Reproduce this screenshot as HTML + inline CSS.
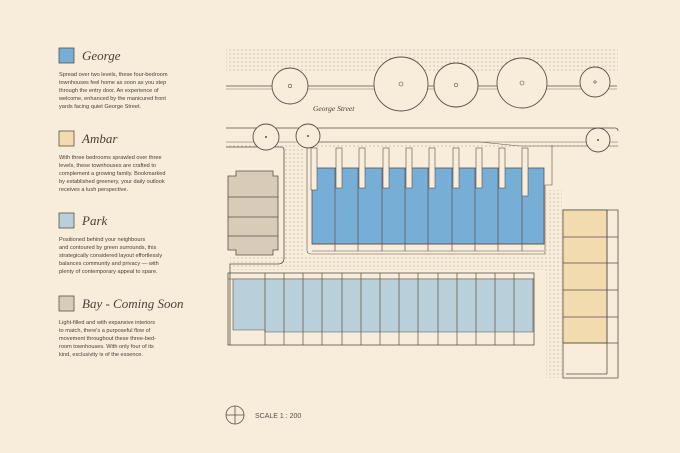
<!DOCTYPE html>
<html><head><meta charset="utf-8"><style>
html,body{margin:0;padding:0;background:#f8ecda;}
svg{display:block}
.t{font-family:"Liberation Serif",serif;font-style:italic;fill:#4a3f36}
.b{font-family:"Liberation Sans",sans-serif;font-size:5.6px;fill:#4a3f36}
</style></head><body>
<svg width="680" height="453" viewBox="0 0 680 453" xmlns="http://www.w3.org/2000/svg">
<defs>
<pattern id="dots" width="4" height="4" patternUnits="userSpaceOnUse"><circle cx="2" cy="2" r="0.55" fill="#9a8c7c"/></pattern>
</defs>
<rect width="680" height="453" fill="#f8ecda"/>
<!-- legend -->
<rect x="59" y="48" width="15" height="15" fill="#77aed6" stroke="#5a5048" stroke-width="0.8"/>
<text x="82" y="60" class="t" font-size="13">George</text>
<g class="b"><text x="59" y="76">Spread over two levels, these four-bedroom</text><text x="59" y="84">townhouses feel home as soon as you step</text><text x="59" y="92">through the entry door. An experience of</text><text x="59" y="100">welcome, enhanced by the manicured front</text><text x="59" y="108">yards facing quiet George Street.</text></g>
<rect x="59" y="131" width="15" height="15" fill="#f3dbb0" stroke="#5a5048" stroke-width="0.8"/>
<text x="82" y="143" class="t" font-size="13">Ambar</text>
<g class="b"><text x="59" y="159">With three bedrooms sprawled over three</text><text x="59" y="167">levels, these townhouses are crafted to</text><text x="59" y="175">complement a growing family. Bookmarked</text><text x="59" y="183">by established greenery, your daily outlook</text><text x="59" y="191">receives a lush perspective.</text></g>
<rect x="59" y="213" width="15" height="15" fill="#b9d0db" stroke="#5a5048" stroke-width="0.8"/>
<text x="82" y="225" class="t" font-size="13">Park</text>
<g class="b"><text x="59" y="241">Positioned behind your neighbours</text><text x="59" y="249">and contoured by green surrounds, this</text><text x="59" y="257">strategically considered layout effortlessly</text><text x="59" y="265">balances community and privacy — with</text><text x="59" y="273">plenty of contemporary appeal to spare.</text></g>
<rect x="59" y="296" width="15" height="15" fill="#d8cbb8" stroke="#5a5048" stroke-width="0.8"/>
<text x="82" y="308" class="t" font-size="13">Bay - Coming Soon</text>
<g class="b"><text x="59" y="324">Light-filled and with expansive interiors</text><text x="59" y="332">to match, there's a purposeful flow of</text><text x="59" y="340">movement throughout these three-bed-</text><text x="59" y="348">room townhouses. With only four of its</text><text x="59" y="356">kind, exclusivity is of the essence.</text></g>

<!-- site -->
<g stroke="#5a5048" stroke-width="0.8" fill="none">
<rect x="226" y="49" width="392" height="24" fill="url(#dots)" stroke="none"/>
<line x1="226" y1="86" x2="617" y2="86"/>
<line x1="226" y1="89" x2="617" y2="89" stroke-width="0.4"/>
<path d="M226 128 L615 128 Q618 128 618 131"/>
<rect x="226" y="142" width="392" height="5" fill="url(#dots)" stroke="none"/>
<line x1="226" y1="142" x2="618" y2="142" stroke-width="0.4"/>
<!-- left lot -->
<path d="M226 147 L281 147 Q284 147 284 150 L284 258 Q284 264 278 264 L230 264 L230 345"/>
<!-- dotted driveway -->
<rect x="285" y="148" width="20" height="110" fill="url(#dots)" stroke="none"/>
<rect x="230" y="256" width="330" height="14" fill="url(#dots)" stroke="none"/>
<rect x="546" y="190" width="16" height="188" fill="url(#dots)" stroke="none"/>
<!-- Bay -->
<path d="M228 176 L236 176 L236 171 L273 171 L273 176 L278 176 L278 250 L273 250 L273 255 L236 255 L236 250 L228 250 Z" fill="#d8cbb8"/>
<line x1="228" y1="197" x2="278" y2="197"/><line x1="228" y1="217" x2="278" y2="217"/><line x1="228" y1="236" x2="278" y2="236"/>
<!-- George -->
<path d="M307 145 L307 250 Q307 254 311 254 L545 254 L545 185 L552 185 L552 145" stroke-width="0.6"/>
<rect x="312" y="168" width="232" height="76" fill="#77aed6"/>
<line x1="312" y1="244" x2="544" y2="244"/><line x1="312" y1="251" x2="544" y2="251" stroke-width="0.5"/>
<g stroke-width="0.7">
<line x1="335" y1="168" x2="335" y2="251"/><line x1="358" y1="168" x2="358" y2="251"/><line x1="382" y1="168" x2="382" y2="251"/><line x1="405" y1="168" x2="405" y2="251"/><line x1="428" y1="168" x2="428" y2="251"/><line x1="452" y1="168" x2="452" y2="251"/><line x1="475" y1="168" x2="475" y2="251"/><line x1="498" y1="168" x2="498" y2="251"/><line x1="522" y1="168" x2="522" y2="251"/>
</g>
<g fill="#f8ecda" stroke-width="0.6">
<rect x="311" y="148" width="6" height="42"/><rect x="336" y="148" width="6" height="40"/><rect x="359" y="148" width="6" height="40"/><rect x="383" y="148" width="6" height="40"/><rect x="406" y="148" width="6" height="40"/><rect x="429" y="148" width="6" height="40"/><rect x="453" y="148" width="6" height="40"/><rect x="476" y="148" width="6" height="40"/><rect x="499" y="148" width="6" height="40"/><rect x="522" y="148" width="6" height="48"/>
</g>
<path d="M305 142 L480 142 L520 146 L618 146" stroke-width="0.5"/>
<!-- Park -->
<rect x="228" y="273" width="306" height="72"/>
<line x1="228" y1="279" x2="534" y2="279" stroke-width="0.5"/>
<path d="M233 279 L533 279 L533 332 L265 332 L265 330 L233 330 Z" fill="#b9d0db" stroke-width="0.6"/>
<g stroke-width="0.7">
<line x1="265" y1="273" x2="265" y2="345"/><line x1="284" y1="273" x2="284" y2="345"/><line x1="303" y1="273" x2="303" y2="345"/><line x1="322" y1="273" x2="322" y2="345"/><line x1="342" y1="273" x2="342" y2="345"/><line x1="361" y1="273" x2="361" y2="345"/><line x1="380" y1="273" x2="380" y2="345"/><line x1="399" y1="273" x2="399" y2="345"/><line x1="418" y1="273" x2="418" y2="345"/><line x1="438" y1="273" x2="438" y2="345"/><line x1="457" y1="273" x2="457" y2="345"/><line x1="476" y1="273" x2="476" y2="345"/><line x1="495" y1="273" x2="495" y2="345"/><line x1="514" y1="273" x2="514" y2="345"/>
</g>
<!-- Ambar -->
<path d="M563 210 L618 210 L618 378 L563 378 Z"/>
<rect x="563" y="210" width="44" height="133" fill="#f3dbb0"/>
<line x1="563" y1="237" x2="618" y2="237"/><line x1="563" y1="263" x2="618" y2="263"/><line x1="563" y1="290" x2="618" y2="290"/><line x1="563" y1="317" x2="618" y2="317"/><line x1="563" y1="343" x2="618" y2="343"/>
<line x1="607" y1="210" x2="607" y2="374"/><line x1="566" y1="374" x2="607" y2="374"/>
<!-- trees -->
<g fill="#f8ecda" stroke-width="0.9">
<circle cx="290" cy="86" r="18"/><circle cx="401" cy="84" r="27"/><circle cx="456" cy="85" r="22"/><circle cx="522" cy="83" r="25"/><circle cx="595" cy="82" r="15"/>
<circle cx="266" cy="137" r="13"/><circle cx="308" cy="136" r="12"/><circle cx="598" cy="140" r="12"/>
</g>
<g fill="none" stroke-width="0.6">
<circle cx="290" cy="86" r="1.7"/><circle cx="401" cy="84" r="2"/><circle cx="456" cy="85" r="1.8"/><circle cx="522" cy="83" r="2"/><circle cx="595" cy="82" r="1.2"/>
</g>
<g fill="#5a5048" stroke="none"><circle cx="266" cy="137" r="1"/><circle cx="308" cy="136" r="1"/><circle cx="598" cy="140" r="1"/></g>
<!-- compass -->
<circle cx="235" cy="415" r="9"/><line x1="226" y1="415" x2="244" y2="415"/><line x1="235" y1="406" x2="235" y2="424"/>
</g>
<text x="313" y="111" class="t" font-size="7.5">George Street</text>
<text x="255" y="418" font-family="Liberation Sans,sans-serif" font-size="7" fill="#5a5048">SCALE 1 : 200</text>
</svg>
</body></html>
